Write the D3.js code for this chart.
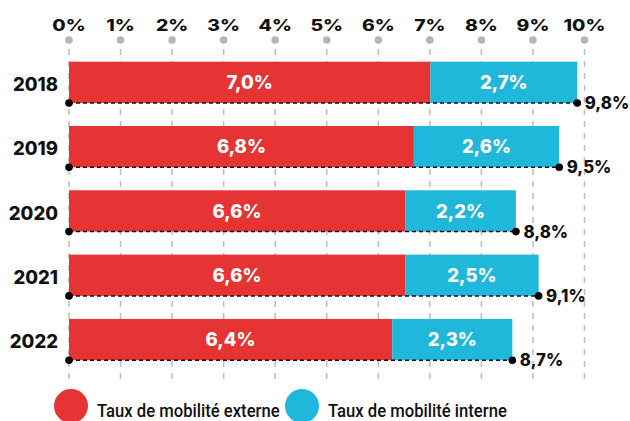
<!DOCTYPE html>
<html><head><meta charset="utf-8">
<script src="https://cdn.jsdelivr.net/npm/d3@7"></script>
<style>body{margin:0;background:#fff}svg{display:block}</style>
</head><body><svg id="c" width="630" height="421"></svg>
<script>
const years = ["2018","2019","2020","2021","2022"];
// printed values
const externe = [7.0, 6.8, 6.6, 6.6, 6.4];
const interne = [2.7, 2.6, 2.2, 2.5, 2.3];
const totals = [9.8, 9.5, 8.8, 9.1, 8.7];
// bar lengths as measured on the picture (unrounded)
const externeLen = [7.01, 6.69, 6.52, 6.52, 6.27];
const totalLen = [9.86, 9.51, 8.67, 9.11, 8.60];
const ticks = [0,1,2,3,4,5,6,7,8,9,10];
const seriesNames = ["Taux de mobilité externe", "Taux de mobilité interne"];
const colors = ["#e63333", "#1fb8da"];

const svg = d3.select("#c");
const x = d3.scaleLinear().domain([0,10]).range([69,584.5]);
const y = d3.scaleBand().domain(years).range([42.4,379.5]).paddingInner(0.358).paddingOuter(0.3);
const fmt = v => d3.format(".1f")(v).replace(".", ",") + "%";
const font = "Inter, 'Noto Sans', sans-serif";

// grid
svg.append("g").selectAll("line").data(ticks).join("line")
  .attr("x1", d=>x(d)).attr("x2", d=>x(d)).attr("y1", 49).attr("y2", 385)
  .attr("stroke", "#bdbdbd").attr("stroke-width", 1.5).attr("stroke-dasharray", "6,6");
svg.append("g").selectAll("circle").data(ticks).join("circle")
  .attr("cx", d=>x(d)).attr("cy", 40).attr("r", 3.8).attr("fill", "#b5b5b5");
svg.append("g").selectAll("text").data(ticks).join("text")
  .attr("transform", d=>`translate(${x(d)},31) scale(1.25,1)`).attr("text-anchor","middle")
  .attr("font-family", font).attr("font-weight", 800).attr("font-size", 15.5).attr("fill","#111")
  .text(d=>d+"%");

const rows = years.map((yr,i)=>({yr, e:externe[i], n:interne[i], t:totals[i], el:externeLen[i], tl:totalLen[i]}));
const g = svg.append("g").selectAll("g").data(rows).join("g");
const bh = y.bandwidth();
g.append("rect").attr("x", x(0)).attr("y", d=>y(d.yr)).attr("width", d=>x(d.el)-x(0)).attr("height", bh).attr("fill", colors[0]);
g.append("rect").attr("x", d=>x(d.el)).attr("y", d=>y(d.yr)).attr("width", d=>x(d.tl)-x(d.el)).attr("height", bh).attr("fill", colors[1]);
g.append("line").attr("x1", x(0)).attr("x2", d=>x(d.tl)).attr("y1", d=>y(d.yr)+bh).attr("y2", d=>y(d.yr)+bh)
  .attr("stroke","#111").attr("stroke-width",1.5).attr("stroke-dasharray","4,3");
g.append("circle").attr("cx", x(0)).attr("cy", d=>y(d.yr)+bh).attr("r",3.8).attr("fill","#000");
g.append("circle").attr("cx", d=>x(d.tl)).attr("cy", d=>y(d.yr)+bh).attr("r",3.8).attr("fill","#000");
g.append("text").attr("x", d=>(x(0)+x(d.el))/2).attr("y", d=>y(d.yr)+bh/2).attr("dy","0.36em")
  .attr("text-anchor","middle").attr("fill","#fff").attr("font-family",font).attr("font-weight",800).attr("font-size",18.5)
  .text(d=>fmt(d.e));
g.append("text").attr("x", d=>(x(d.el)+x(d.tl))/2).attr("y", d=>y(d.yr)+bh/2).attr("dy","0.36em")
  .attr("text-anchor","middle").attr("fill","#fff").attr("font-family",font).attr("font-weight",800).attr("font-size",18.5)
  .text(d=>fmt(d.n));
g.append("text").attr("x", d=>x(d.tl)+7.5).attr("y", d=>y(d.yr)+bh).attr("dy","0.36em")
  .attr("fill","#111").attr("font-family",font).attr("font-weight",800).attr("font-size",16.8)
  .text(d=>fmt(d.t));
g.append("text").attr("x", 58).attr("y", d=>y(d.yr)+bh/2+2).attr("dy","0.36em")
  .attr("text-anchor","end").attr("fill","#111").attr("font-family",font).attr("font-weight",800).attr("font-size",18.5)
  .text(d=>d.yr);

// legend
const lg = svg.append("g").selectAll("g").data(seriesNames).join("g")
  .attr("transform",(d,i)=>`translate(${[71,302][i]},406)`);
lg.append("circle").attr("r",17).attr("fill",(d,i)=>colors[i]);
lg.append("text").attr("transform","translate(26,10.5) scale(0.925,1)").attr("font-family","Roboto, sans-serif").attr("font-weight",500)
  .attr("font-size",18).attr("fill","#111").text(d=>d);
</script></body></html>
